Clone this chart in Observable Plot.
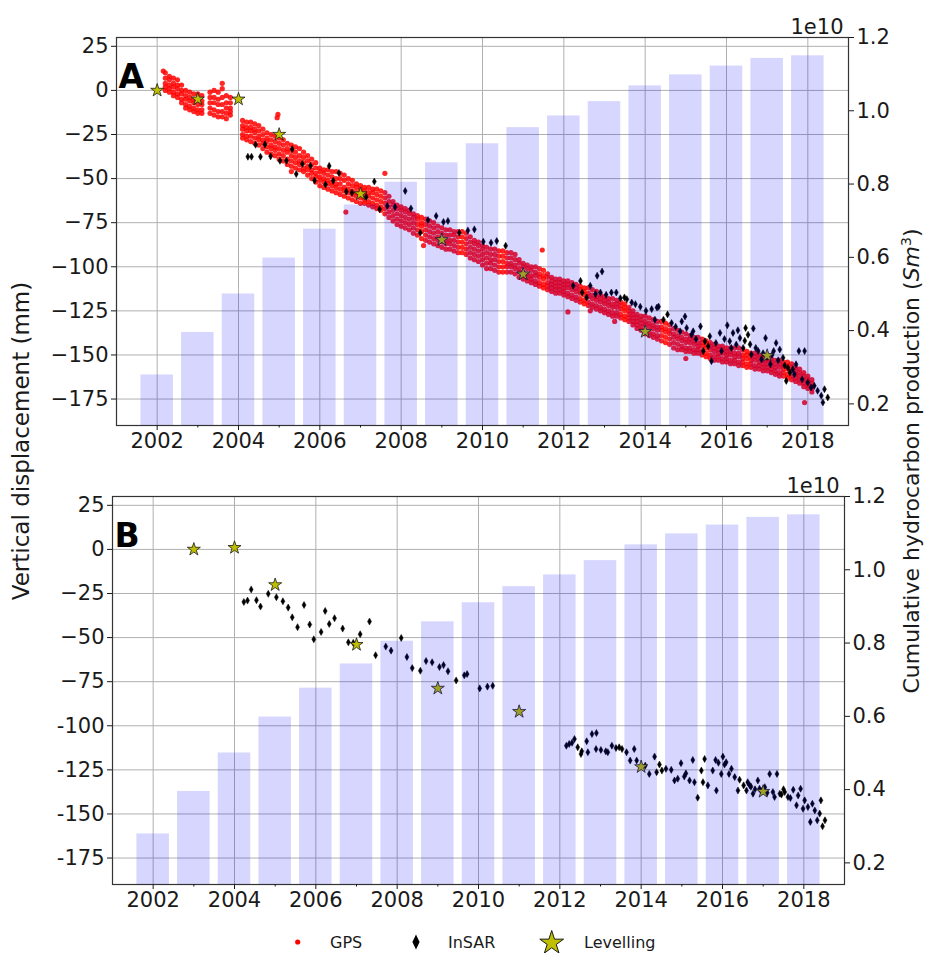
<!DOCTYPE html>
<html><head><meta charset="utf-8">
<script src="https://cdn.jsdelivr.net/npm/d3@7"></script>
<script src="https://cdn.jsdelivr.net/npm/@observablehq/plot@0.6"></script>
<style>
body{margin:0;background:#fff;font-family:"DejaVu Sans",sans-serif;}
#wrap{position:relative;width:925px;height:953px;overflow:hidden;background:#fff;}
.panel{position:absolute;left:0;}
.ylab{position:absolute;white-space:nowrap;line-height:1;transform:translate(-50%,-50%) rotate(-90deg);font-size:23px;color:#1a1a1a;font-family:"DejaVu Sans",sans-serif;}
</style></head><body><div id="wrap"></div>
<script>
// ---------- data ----------
const years = [2002,2003,2004,2005,2006,2007,2008,2009,2010,2011,2012,2013,2014,2015,2016,2017,2018];
const production = [0.279,0.395,0.500,0.598,0.677,0.743,0.805,0.858,0.910,0.954,0.986,1.025,1.068,1.098,1.122,1.143,1.150]; // x1e10 Sm3
const yLeftTicks = [-175,-150,-125,-100,-75,-50,-25,0,25];
const yRightTicks = [0.2,0.4,0.6,0.8,1.0,1.2];
const xMajorTicks = [2002,2004,2006,2008,2010,2012,2014,2016,2018];
const xMinorTicks = [2003,2005,2007,2009,2011,2013,2015,2017];
const dispDomain = [-190, 30];
const prodDomain = [0.141, 1.2];
const xDomain = [2001, 2019];

const levellingA = [[2002,0],[2003,-5],[2004,-5],[2005,-25],[2007,-58.7],[2009,-84.7],[2011,-104.2],[2014,-136.8],[2017,-150.4]];
const levellingB = [[2003,0],[2004,1],[2005,-20.1],[2007,-54],[2009,-78.8],[2011,-92],[2014,-123.3],[2017,-137.3]];

const insarA = [
[2004.23,-37.6],[2004.32,-37.6],[2004.42,-30.8],[2004.54,-37.6],[2004.65,-30.6],[2004.79,-37.4],[2005.02,-39.9],[2005.18,-39.9],
[2005.32,-33.3],[2005.42,-47.4],[2005.57,-41.7],[2005.77,-42.7],[2005.87,-51.1],[2006.14,-53.4],[2006.23,-42.8],[2006.33,-51.2],
[2006.47,-46.8],[2006.65,-57.4],[2006.79,-58],[2007.14,-60.4],[2007.34,-51.7],[2007.47,-67.4],[2007.66,-65.5],[2007.85,-66.1],
[2008.1,-57],[2008.24,-66.9],[2008.47,-80.7],[2008.66,-73.5],[2008.86,-71.2],[2009.04,-74.6],[2009.15,-74],[2009.43,-80.7],
[2009.64,-79.4],[2009.8,-78.8],[2010.02,-85.8],[2010.21,-86.4],[2010.35,-85.4],[2010.57,-88.1],
[2012.23,-110.8],[2012.41,-108],[2012.45,-114.6],[2012.56,-117.4],[2012.65,-110.8],[2012.78,-115.5],[2012.82,-105.1],[2012.94,-102.7],
[2012.9,-114.6],[2013.04,-115.9],[2013.17,-114.6],[2013.29,-114.6],[2013.39,-117.8],[2013.49,-117.4],[2013.55,-118.4],[2013.67,-120.3],
[2013.76,-121.2],[2013.88,-122.7],[2014.02,-125],[2014.16,-124],[2014.29,-123.1],
[2014.24,-130],[2014.33,-122.6],[2014.45,-130],[2014.55,-127],[2014.65,-131.9],[2014.75,-134],[2014.86,-136.6],[2014.9,-131],[2014.98,-128.2],
[2015.02,-134.7],[2015.14,-138.5],[2015.18,-136.6],[2015.25,-141],[2015.36,-133.8],[2015.43,-147.8],[2015.47,-142.2],[2015.55,-145],
[2015.59,-139.4],[2015.63,-153.5],[2015.74,-143.2],[2015.84,-137.5],[2015.88,-147.8],[2015.95,-141],[2016.02,-133.2],[2016.08,-142.2],
[2016.12,-146],[2016.16,-137.5],[2016.24,-144.1],[2016.28,-136],[2016.33,-140.4],[2016.41,-146],[2016.45,-142],[2016.47,-134.7],
[2016.53,-138.5],[2016.58,-144],[2016.61,-149.7],[2016.66,-135],[2016.72,-146],[2016.78,-147.8],[2016.86,-152.5],[2016.9,-149],
[2016.96,-140.4],[2017.0,-151],[2017.08,-155.3],[2017.12,-150],[2017.16,-147.8],[2017.22,-143.2],[2017.27,-153],[2017.31,-146.9],
[2017.39,-151.6],[2017.43,-156],[2017.47,-164.7],[2017.51,-157.2],[2017.56,-160],[2017.63,-158.1],[2017.67,-161],[2017.71,-155.3],
[2017.78,-147.8],[2017.86,-163.8],[2017.92,-147.8],[2018.0,-165.6],[2018.08,-168.4],[2018.16,-167.5],[2018.24,-170.3],[2018.33,-173.1],
[2018.41,-169.4],[2018.37,-176.9],[2018.49,-174.1]
];

const insarB = [
[2004.23,-29.8],[2004.32,-29],[2004.41,-22.7],[2004.54,-28.8],[2004.64,-32.4],[2004.83,-25.2],[2005.03,-27.1],[2005.19,-29.4],
[2005.32,-33],[2005.42,-38.5],[2005.55,-44.1],[2005.71,-31.5],[2005.85,-42.6],[2005.95,-51],[2006.13,-46.8],[2006.23,-34.9],
[2006.33,-42.3],[2006.46,-39],[2006.66,-44.9],[2006.8,-52.7],[2006.92,-53],[2007.09,-48.1],[2007.32,-40.9],[2007.47,-60],
[2007.72,-55.1],[2007.85,-57.4],[2008.1,-50.2],[2008.24,-61],[2008.37,-67.3],[2008.57,-68.8],[2008.71,-63.3],[2008.86,-64],
[2009.04,-66.7],[2009.14,-65.6],[2009.25,-69.1],[2009.45,-74.3],[2009.65,-71.4],[2009.72,-70.7],[2010.03,-78.8],[2010.22,-77.8],[2010.35,-77.3],
[2012.16,-111.3],[2012.23,-110.3],[2012.3,-109.6],[2012.36,-107.5],[2012.44,-112.2],[2012.52,-116],[2012.54,-114.5],[2012.66,-108.8],
[2012.69,-115],[2012.79,-104.7],[2012.9,-104.1],[2012.89,-113.2],[2013.01,-113.7],[2013.13,-114.5],[2013.18,-115],[2013.28,-111.3],
[2013.38,-112.6],[2013.46,-112.2],[2013.53,-113.2],[2013.64,-115],[2013.73,-119.7],[2013.83,-113.2],[2013.89,-119.7],[2014.1,-122.6],
[2014.2,-127.3],[2014.33,-117.5],[2014.38,-126.3],[2014.45,-122],[2014.51,-125.4],[2014.61,-124.4],[2014.74,-125],[2014.82,-131],
[2014.9,-130],[2014.98,-121.2],[2015.06,-128.8],[2015.1,-127],[2015.19,-131],[2015.27,-119.4],[2015.31,-132],[2015.39,-140.8],
[2015.48,-125.4],[2015.52,-132],[2015.56,-118.8],[2015.64,-133.8],[2015.76,-125.4],[2015.83,-119.4],[2015.85,-136.7],[2015.9,-121],
[2015.97,-127.3],[2016.01,-117.5],[2016.05,-122],[2016.09,-120.7],[2016.16,-127.3],[2016.22,-124.4],[2016.3,-129.1],[2016.38,-136.7],
[2016.42,-130.6],[2016.52,-133.8],[2016.59,-136.7],[2016.62,-132],[2016.67,-133.8],[2016.7,-134.5],[2016.75,-138.5],[2016.8,-136],
[2016.87,-131],[2016.91,-135.7],[2016.95,-137],[2017.04,-134.8],[2017.1,-138],[2017.16,-127.3],[2017.24,-137.6],[2017.28,-140.4],
[2017.34,-127.3],[2017.41,-138.5],[2017.45,-139],[2017.5,-136],[2017.53,-137.6],[2017.61,-140.4],[2017.67,-141],[2017.74,-136.3],
[2017.82,-145.1],[2017.86,-139.5],[2017.92,-135.7],[2017.98,-147],[2018.02,-142.3],[2018.1,-146.1],[2018.16,-154.5],[2018.21,-144.2],
[2018.27,-148],[2018.33,-153.6],[2018.39,-149.8],[2018.42,-142.3],[2018.46,-157],[2018.52,-153.6]
];

// GPS (panel A): per epoch, readings across the band from its top to its bottom
const gpsBand = [
[2002.2,10,7,4,2,0],[2002.3,8,6,3,1,-1],[2002.4,7,4,2,-1,-3],[2002.5,6,3,1,-2,-4],[2002.6,3,0,-2,-5,-7],
[2002.7,0,-3,-5,-8,-10],[2002.8,-1,-4,-6,-9,-11],[2002.9,-2,-5,-7,-10,-12],[2003.0,-2,-5,-8,-11,-13],[2003.1,-3,-6,-8,-11,-13],
[2003.3,-1,-4,-7,-10,-13],[2003.4,0,-4,-7,-11,-14],[2003.5,-1,-5,-8,-12,-15],[2003.6,1,-4,-8,-12,-15],[2003.7,-3,-7,-10,-13,-16],[2003.8,-4,-7,-10,-12,-14],
[2004.1,-17,-20,-22,-25,-27],[2004.2,-18,-21,-23,-26,-28],[2004.3,-18,-21,-23,-26,-29],[2004.4,-19,-22,-24,-27,-30],[2004.5,-20,-23,-26,-28,-31],
[2004.6,-22,-25,-28,-30,-33],[2004.7,-24,-27,-29,-32,-35],[2004.8,-25,-28,-31,-33,-36],[2004.9,-26,-29,-32,-34,-37],[2005.0,-27,-30,-33,-36,-39],
[2005.1,-28,-31,-34,-37,-40],[2005.2,-30,-33,-35,-39,-42],[2005.3,-31,-34,-37,-40,-43],[2005.4,-32,-35,-38,-41,-44],[2005.5,-33,-37,-40,-42,-45],
[2005.6,-35,-38,-41,-44,-46],[2005.7,-37,-40,-43,-45,-48],[2005.8,-39,-42,-45,-47,-50],[2005.9,-41,-44,-47,-49,-52],[2006.0,-44,-46,-49,-51,-54],
[2006.1,-45,-47,-50,-52,-55],[2006.2,-45,-48,-51,-53,-56],[2006.3,-46,-49,-52,-54,-57],[2006.4,-46,-50,-53,-55,-58],[2006.5,-47,-50,-53,-56,-59],
[2006.6,-48,-51,-55,-57,-60],[2006.7,-50,-53,-56,-58,-61],[2006.8,-51,-54,-57,-59,-62],[2006.9,-53,-55,-58,-60,-63],[2007.0,-54,-56,-59,-61,-64],
[2007.1,-55,-57,-59,-62,-64],[2007.2,-55,-58,-60,-63,-65],[2007.3,-56,-58,-61,-64,-66],[2007.4,-56,-59,-62,-65,-67],[2007.5,-57,-60,-63,-66,-68],
[2007.6,-58,-61,-64,-67,-70],[2007.7,-60,-63,-66,-69,-72],[2007.8,-63,-65,-68,-71,-74],[2007.9,-65,-67,-70,-73,-76],[2008.0,-66,-68,-71,-74,-77],
[2008.1,-67,-69,-72,-75,-78],[2008.2,-68,-70,-73,-76,-79],[2008.3,-70,-72,-75,-78,-81],[2008.4,-71,-73,-76,-79,-82],[2008.5,-72,-75,-77,-80,-84],
[2008.6,-73,-76,-79,-82,-85],[2008.7,-74,-77,-80,-83,-86],[2008.8,-75,-78,-81,-84,-87],[2008.9,-77,-80,-83,-85,-88],[2009.0,-78,-81,-84,-86,-89],
[2009.1,-79,-82,-85,-87,-90],[2009.2,-79,-82,-85,-87,-90],[2009.3,-80,-82,-85,-88,-91],[2009.4,-80,-83,-86,-89,-92],[2009.5,-80,-83,-86,-89,-92],
[2009.6,-81,-84,-87,-90,-93],[2009.7,-83,-86,-89,-92,-95],[2009.8,-85,-87,-90,-93,-96],[2009.9,-86,-88,-91,-94,-97],[2010.0,-88,-90,-93,-96,-99],
[2010.1,-89,-92,-95,-98,-101],[2010.2,-90,-93,-96,-98,-101],[2010.3,-90,-93,-96,-99,-102],[2010.4,-91,-94,-97,-100,-103],[2010.5,-91,-94,-97,-100,-103],
[2010.6,-92,-95,-98,-100,-103],[2010.7,-92,-95,-98,-100,-103],[2010.8,-93,-96,-99,-101,-104],[2010.9,-96,-98,-101,-103,-106],[2011.0,-98,-100,-103,-105,-107],
[2011.1,-99,-101,-104,-106,-108],[2011.2,-100,-102,-105,-107,-109],[2011.3,-100,-103,-105,-108,-110],[2011.4,-101,-104,-106,-109,-111],[2011.5,-102,-105,-107,-110,-112],
[2011.6,-104,-106,-109,-111,-113],[2011.7,-106,-108,-110,-112,-114],[2011.8,-107,-109,-111,-113,-115],[2011.9,-107,-109,-111,-113,-115],[2012.0,-108,-110,-112,-114,-116],
[2012.1,-108,-110,-112,-115,-117],[2012.2,-109,-111,-113,-116,-118],[2012.3,-110,-112,-114,-117,-119],[2012.4,-111,-113,-115,-118,-120],[2012.5,-112,-114,-116,-119,-121],
[2012.6,-112,-115,-117,-120,-122],[2012.7,-113,-116,-118,-121,-123],[2012.8,-114,-117,-119,-122,-124],[2012.9,-116,-118,-120,-123,-125],[2013.0,-117,-119,-121,-124,-126],
[2013.1,-118,-120,-122,-125,-127],[2013.2,-118,-121,-123,-126,-128],[2013.3,-119,-121,-123,-126,-128],[2013.4,-120,-122,-124,-127,-129],[2013.5,-121,-123,-125,-128,-130],
[2013.6,-123,-125,-127,-129,-131],[2013.7,-125,-127,-129,-131,-133],[2013.8,-127,-129,-131,-133,-135],[2013.9,-128,-130,-132,-134,-136],[2014.0,-128,-131,-133,-136,-138],
[2014.1,-129,-132,-134,-137,-139],[2014.2,-130,-133,-135,-138,-140],[2014.3,-131,-134,-136,-139,-141],[2014.4,-131,-134,-136,-139,-142],[2014.5,-132,-135,-137,-140,-143],
[2014.6,-133,-136,-138,-141,-144],[2014.7,-135,-138,-140,-143,-146],[2014.8,-136,-139,-141,-144,-147],[2014.9,-137,-140,-142,-145,-147],[2015.0,-138,-141,-143,-146,-148],
[2015.1,-139,-141,-143,-146,-148],[2015.2,-140,-142,-144,-147,-149],[2015.3,-140,-143,-145,-147,-149],[2015.4,-141,-143,-145,-148,-150],[2015.5,-142,-144,-146,-149,-151],
[2015.6,-143,-145,-147,-150,-152],[2015.7,-144,-146,-148,-151,-153],[2015.8,-145,-147,-149,-151,-153],[2015.9,-145,-147,-149,-152,-154],[2016.0,-146,-148,-150,-152,-154],
[2016.1,-146,-148,-150,-153,-155],[2016.2,-146,-149,-151,-153,-155],[2016.3,-146,-149,-151,-154,-156],[2016.4,-147,-150,-152,-154,-156],[2016.5,-148,-150,-152,-155,-157],
[2016.6,-149,-151,-153,-155,-157],[2016.7,-149,-151,-153,-156,-158],[2016.8,-150,-152,-154,-156,-158],[2016.9,-151,-153,-155,-157,-159],[2017.0,-152,-153,-155,-157,-159],
[2017.1,-152,-154,-156,-158,-160],[2017.2,-153,-155,-157,-159,-161],[2017.3,-153,-155,-157,-160,-162],[2017.4,-154,-156,-158,-160,-162],[2017.5,-154,-156,-158,-161,-163],
[2017.6,-155,-157,-159,-162,-164],[2017.7,-157,-159,-161,-163,-165],[2017.8,-158,-160,-162,-164,-166],[2017.9,-160,-162,-164,-166,-168],[2018.0,-162,-164,-166,-167,-169],
[2018.1,-164,-166,-168,-169,-171]
];
const gpsOutliers = [[2002.15,11],[2003.6,4],[2004.97,-13.6],[2004.95,-15.5],[2005.3,-46],[2006.64,-69],[2007.6,-47],[2008.55,-88],
[2011.47,-90.5],[2012.1,-125.6],[2012.65,-125],[2013.25,-131],[2015.0,-152],[2017.92,-177]];

// ---------- helpers ----------
const toMM = p => dispDomain[0] + (p - prodDomain[0]) / (prodDomain[1] - prodDomain[0]) * (dispDomain[1] - dispDomain[0]);
const fromMM = m => prodDomain[0] + (m - dispDomain[0]) / (dispDomain[1] - dispDomain[0]) * (prodDomain[1] - prodDomain[0]);
const bars = years.map((year, i) => ({year, prod: production[i]}));
const gpsPoints = gpsBand.flatMap(r => r.slice(1).map(v => ({t: r[0], v}))).concat(gpsOutliers.map(([t, v]) => ({t, v})));
const thinDiamond = {draw(ctx, size) {const r = Math.sqrt(size / Math.PI); ctx.moveTo(0, -r * 1.6); ctx.lineTo(r * 0.9, 0); ctx.lineTo(0, r * 1.6); ctx.lineTo(-r * 0.9, 0); ctx.closePath();}};
const pts = a => a.map(([t, v]) => ({t, v}));

const fmtA = d => d < 0 ? "\u2212" + Math.abs(d) : String(d);
const fmtB = d => d <= -100 ? "-" + Math.abs(d) : d < 0 ? "\u2212" + Math.abs(d) : String(d);
const TICK_FS = 21;

function panel({letter, gps, insar, levelling, marginLeft, marginRight, marginTop, marginBottom, height, yFormat}) {
  const marks = [
    Plot.gridY(yLeftTicks, {stroke: "#b0b0b0", strokeOpacity: 1, strokeWidth: 1}),
    Plot.gridX(xMajorTicks, {stroke: "#b0b0b0", strokeOpacity: 1, strokeWidth: 1})
  ];
  if (gps) marks.push(Plot.dot(gps, {x: "t", y: "v", r: 2.6, fill: "#ff0000", fillOpacity: 0.85, stroke: null}));
  marks.push(
    Plot.dot(pts(insar), {x: "t", y: "v", symbol: thinDiamond, r: 2.2, fill: "#000", stroke: "#000", strokeWidth: 0.5}),
    Plot.dot(pts(levelling), {x: "t", y: "v", symbol: "star", r: 4.1, fill: "#bfbf00", stroke: "#1a1a1a", strokeWidth: 0.8}),
    Plot.rect(bars, {x1: d => d.year - 0.4, x2: d => d.year + 0.4, y1: dispDomain[0], y2: d => toMM(d.prod), fill: "blue", fillOpacity: 0.16}),
    Plot.frame({stroke: "#333", strokeWidth: 1.2}),
    Plot.axisY(yLeftTicks, {anchor: "left", tickSize: 5, tickPadding: 3, tickFormat: yFormat, label: null, color: "#1a1a1a", fontSize: TICK_FS}),
    Plot.axisY(yRightTicks.map(toMM), {anchor: "right", tickSize: 5, tickPadding: 3, tickFormat: d => fromMM(d).toFixed(1), label: null, color: "#1a1a1a", fontSize: TICK_FS}),
    Plot.axisX(xMajorTicks, {anchor: "bottom", tickSize: 5, tickPadding: 3, tickFormat: d => String(d), label: null, color: "#1a1a1a", fontSize: TICK_FS}),
    Plot.axisX(xMinorTicks, {anchor: "bottom", tickSize: 2.5, tickFormat: () => "", label: null, color: "#1a1a1a"}),
    Plot.text([letter], {frameAnchor: "top-left", lineAnchor: "top", textAnchor: "start", dx: 2, dy: 27, fontSize: 33, fontWeight: "bold", fill: "#000"}),
    Plot.text(["1e10"], {frameAnchor: "top-right", lineAnchor: "bottom", textAnchor: "end", dx: -5, dy: -4, fontSize: TICK_FS, fill: "#1a1a1a"})
  );
  return Plot.plot({
    width: 925, height, marginLeft, marginRight, marginTop, marginBottom,
    style: {fontFamily: "DejaVu Sans", fontSize: TICK_FS + "px", background: "transparent", color: "#1a1a1a", overflow: "visible"},
    x: {domain: xDomain, axis: null},
    y: {domain: dispDomain, axis: null},
    marks
  });
}

const wrap = document.getElementById("wrap");
const pA = panel({letter: "A", gps: gpsPoints, insar: insarA, levelling: levellingA, marginLeft: 116, marginRight: 77, marginTop: 37, marginBottom: 40, height: 465, yFormat: fmtA});
const dA = document.createElement("div"); dA.className = "panel"; dA.style.top = "0px"; dA.appendChild(pA); wrap.appendChild(dA);
const pB = panel({letter: "B", gps: null, insar: insarB, levelling: levellingB, marginLeft: 112, marginRight: 81, marginTop: 31, marginBottom: 46, height: 465, yFormat: fmtB});
const dB = document.createElement("div"); dB.className = "panel"; dB.style.top = "465px"; dB.appendChild(pB); wrap.appendChild(dB);

// axis titles
const lLab = document.createElement("div"); lLab.className = "ylab"; lLab.style.left = "21px"; lLab.style.top = "441px";
lLab.textContent = "Vertical displacement (mm)"; wrap.appendChild(lLab);
const rLab = document.createElement("div"); rLab.className = "ylab"; rLab.style.left = "912px"; rLab.style.top = "461px"; rLab.style.fontSize = "22px";
rLab.innerHTML = "Cumulative hydrocarbon production (<i>Sm</i><sup style=\"font-size:14px;line-height:0\">3</sup>)"; wrap.appendChild(rLab);

// legend
const lg = d3.create("svg").attr("width", 925).attr("height", 23).style("position", "absolute").style("left", "0px").style("top", "930px")
  .style("font-family", "DejaVu Sans").style("font-size", "16px");
lg.append("circle").attr("cx", 297.7).attr("cy", 12).attr("r", 2.6).attr("fill", "#ff0000");
lg.append("text").attr("x", 330).attr("y", 18).attr("fill", "#1a1a1a").text("GPS");
lg.append("path").attr("d", "M0,-7.5L3.6,0L0,7.5L-3.6,0Z").attr("transform", "translate(416,12)").attr("fill", "#000");
lg.append("text").attr("x", 448).attr("y", 18).attr("fill", "#1a1a1a").text("InSAR");
lg.append("path").attr("d", d3.symbol(d3.symbolStar, 175)()).attr("transform", "translate(551.7,13)").attr("fill", "#bfbf00").attr("stroke", "#1a1a1a").attr("stroke-width", 1);
lg.append("text").attr("x", 584).attr("y", 18).attr("fill", "#1a1a1a").text("Levelling");
wrap.appendChild(lg.node());
</script></body></html>
